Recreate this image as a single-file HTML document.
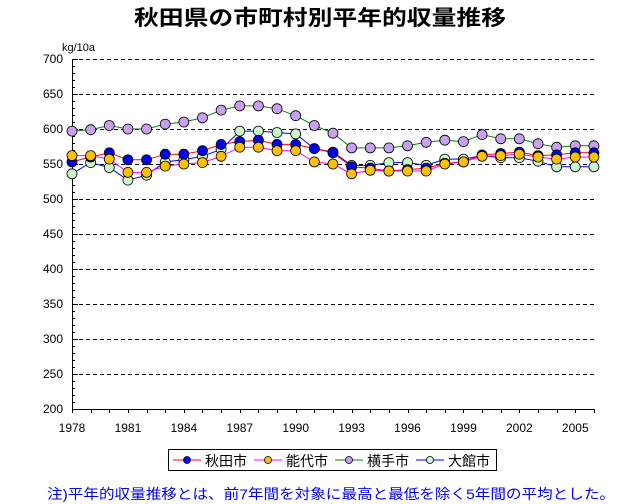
<!DOCTYPE html>
<html><head><meta charset="utf-8"><style>
body{margin:0;background:#fff;}
svg{display:block;font-family:"Liberation Sans","Noto Sans CJK JP",sans-serif;}
</style></head><body>
<svg width="640" height="504" viewBox="0 0 640 504" xmlns="http://www.w3.org/2000/svg">
<text x="320" y="25" text-anchor="middle" font-size="21" font-weight="bold" textLength="372" lengthAdjust="spacingAndGlyphs" font-family="'Liberation Sans','Noto Sans CJK JP',sans-serif">秋田県の市町村別平年的収量推移</text>
<text x="62" y="51" font-size="11">kg/10a</text>
<g id="grid" stroke="#000" stroke-width="1" stroke-dasharray="4,3"></g>
<g id="axes"></g>
<g id="series"></g>
<g>
<rect x="168.5" y="449.5" width="328" height="21" fill="#fff" stroke="#000"/>
<line x1="173" y1="460" x2="201" y2="460" stroke="#f00"/><circle cx="187" cy="460" r="3.5" fill="#00f" stroke="#000" stroke-width="0.8"/>
<text x="205" y="466" font-size="14">秋田市</text>
<line x1="254" y1="460" x2="282" y2="460" stroke="#f0f"/><circle cx="268" cy="460" r="3.5" fill="#ffc000" stroke="#000" stroke-width="0.8"/>
<text x="286" y="466" font-size="14">能代市</text>
<line x1="335" y1="460" x2="363" y2="460" stroke="#080"/><circle cx="349" cy="460" r="3.5" fill="#c9a0f0" stroke="#000" stroke-width="0.8"/>
<text x="367" y="466" font-size="14">横手市</text>
<line x1="416" y1="460" x2="444" y2="460" stroke="#00f"/><circle cx="430" cy="460" r="3.5" fill="#ccf5cc" stroke="#000" stroke-width="0.8"/>
<text x="448" y="466" font-size="14">大館市</text>
</g>
<text x="47" y="499" font-size="14" fill="#00f" textLength="568" lengthAdjust="spacingAndGlyphs">注)平年的収量推移とは、前7年間を対象に最高と最低を除く5年間の平均とした。</text>
</svg>
<script>
(function(){
var NS="http://www.w3.org/2000/svg";
function el(p,t,a,txt){var e=document.createElementNS(NS,t);for(var k in a)e.setAttribute(k,a[k]);if(txt!==undefined)e.textContent=txt;p.appendChild(e);return e;}
var svg=document.querySelector('svg');
var grid=document.getElementById('grid'),axes=document.getElementById('axes'),ser=document.getElementById('series');
function Y(v){return 409-(v-200)*0.7;}
function X(i){return 72+i*18.64;}
for(var v=250;v<=700;v+=50){el(grid,'line',{x1:72,y1:Y(v)+0.5,x2:595,y2:Y(v)+0.5});}
for(var v=200;v<=700;v+=50){el(axes,'text',{x:63,y:Y(v)+4,'font-size':12,'text-anchor':'end'},String(v));}
for(var v=200;v<=700;v+=10){el(axes,'line',{x1:72,y1:Y(v)+0.5,x2:v%50==0?78:75,y2:Y(v)+0.5,stroke:'#000'});}
el(axes,'line',{x1:72.5,y1:59,x2:72.5,y2:409.5,stroke:'#000'});
el(axes,'line',{x1:72,y1:409.5,x2:595,y2:409.5,stroke:'#000'});
for(var i=0;i<=28;i++){var x=Math.round(X(i))+0.5;el(axes,'line',{x1:x,y1:409,x2:x,y2:413,stroke:'#000'});if(i%3==0)el(axes,'text',{x:X(i),y:432,'font-size':12,'text-anchor':'middle'},String(1978+i));}
var data=[
{c:'#080',f:'#c9a0f0',d:[597,599,605,600,600,607,610,616,627,633,633,629,619,605,594,573,573,573,576,581,584,582,592,586,586,579,574,576,576]},
{c:'#00f',f:'#ccf5cc',d:[536,552,545,527,534,553,556,561,571,597,597,595,593,572,567,548,548,552,552,548,557,557,562,559,559,554,546,546,546]},
{c:'#f00',f:'#0000ee',d:[553,560,566,556,556,564,564,569,578,582,584,578,578,572,566,546,544,540,542,544,551,553,563,565,567,562,563,566,566]},
{c:'#f0f',f:'#ffc000',d:[562,562,557,538,538,547,550,552,561,574,574,569,569,553,550,536,541,540,540,540,550,553,561,562,564,560,557,560,560]}
];
var order=[0,1,2,3];
order.forEach(function(k){var s=data[k];el(ser,'polyline',{points:s.d.map(function(v,i){return X(i)+','+Y(v);}).join(' '),fill:'none',stroke:s.c,'stroke-width':1});});
order.forEach(function(k){var s=data[k];s.d.forEach(function(v,i){el(ser,'circle',{cx:X(i),cy:Y(v),r:5,fill:s.f,stroke:'#000','stroke-width':0.8});});});
})();
</script>
</body></html>
